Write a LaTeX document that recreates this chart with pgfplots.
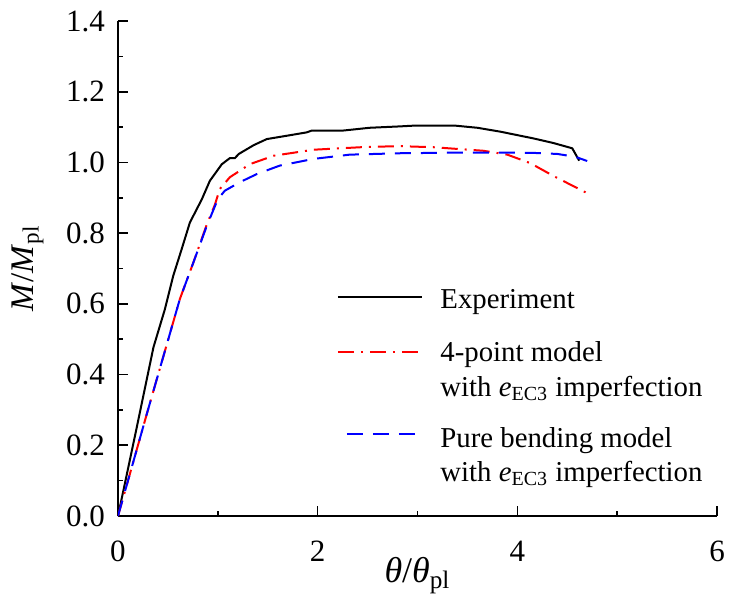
\documentclass[border=0pt]{standalone}
\usepackage{fontspec}
\setmainfont{Liberation Serif}
\usepackage{pgfplots}
\pgfplotsset{compat=1.18}

\begin{document}
\begin{tikzpicture}[x=0.5pt,y=0.5pt]
\begin{axis}[
  scale only axis, width=299.5pt, height=247.5pt,
  xmin=0, xmax=6, ymin=0, ymax=1.4,
  axis lines*=left, axis line style={line width=0.9pt},
  tick align=inside, major tick length=5pt, minor tick length=2.5pt,
  tick style={line width=0.8pt, black},
  xtick={0,2,4,6}, minor xtick={1,3,5},
  ytick={0,0.2,...,1.4}, minor ytick={0.1,0.3,...,1.3},
  /pgf/number format/assume math mode=true,
  tick label style={font=\fontsize{15.5}{17}\selectfont},
  yticklabel style={xshift=-3pt, /pgf/number format/.cd, fixed, fixed zerofill, precision=1},
  xticklabel style={yshift=-9pt},
  xlabel={\textit{θ}/\textit{θ}\textsubscript{pl}},
  ylabel={\textit{M}/\textit{M}\textsubscript{pl}},
  xlabel style={font=\fontsize{18}{20}\selectfont, yshift=9pt},
  ylabel style={font=\fontsize{16.5}{18}\selectfont, yshift=4.5pt},
]
\addplot[black, line width=1pt] coordinates {
(0,0) (0.18,0.24) (0.355,0.477) (0.47,0.585) (0.554,0.68) (0.638,0.755)
(0.72,0.83) (0.84,0.896) (0.92,0.948) (1.04,0.995) (1.12,1.012) (1.17,1.012)
(1.21,1.024) (1.36,1.049) (1.49,1.066) (1.66,1.074) (1.89,1.085) (1.94,1.09)
(2.25,1.09) (2.52,1.098) (2.83,1.102) (2.96,1.104) (3.38,1.104) (3.6,1.098)
(3.83,1.087) (4.16,1.068) (4.36,1.055) (4.55,1.04) (4.62,1.005)};
\addplot[red, line width=1pt, dash pattern=on 8pt off 3.5pt on 1pt off 3.5pt] coordinates {
(0,0) (0.3,0.3) (0.62,0.614) (0.755,0.717) (0.89,0.825) (0.97,0.88)
(1.02,0.925) (1.12,0.958) (1.32,0.995) (1.56,1.019) (1.96,1.036) (2.5,1.044)
(2.83,1.046) (3.16,1.043) (3.66,1.033) (3.9,1.022) (4.13,0.998) (4.36,0.962)
(4.7,0.913)};
\addplot[blue, line width=1pt, dash pattern=on 8pt off 5pt] coordinates {
(0,0) (0.3,0.3) (0.62,0.614) (0.755,0.717) (0.89,0.821) (1.0,0.896)
(1.07,0.92) (1.22,0.944) (1.39,0.967) (1.62,0.991) (1.96,1.01) (2.32,1.022)
(2.83,1.026) (3.49,1.028) (3.8,1.028) (4.16,1.027) (4.4,1.024) (4.58,1.016)
(4.7,1.004)};
% legend
\draw[black, line width=1pt] (axis description cs:0.367,0.442) -- (axis description cs:0.5075,0.442);
\draw[red, line width=1pt, dash pattern=on 8pt off 3.5pt on 1pt off 3.5pt] (axis description cs:0.367,0.331) -- (axis description cs:0.5075,0.331);
\draw[blue, line width=1pt, dash pattern=on 8pt off 5pt] (axis description cs:0.382,0.166) -- (axis description cs:0.499,0.166);
\begin{scope}[every node/.style={anchor=base west, inner sep=0pt, font=\fontsize{14.4}{17}\selectfont}]
\node at (axis description cs:0.5376,0.420) {Experiment};
\node at (axis description cs:0.5376,0.313) {4-point model};
\node at (axis description cs:0.5376,0.242) {with \textit{e}\textsubscript{EC3} imperfection};
\node at (axis description cs:0.5376,0.139) {Pure bending model};
\node at (axis description cs:0.5376,0.0707) {with \textit{e}\textsubscript{EC3} imperfection};
\end{scope}
\end{axis}
\path (current axis.south west) ++(-59pt,-37pt) rectangle ++(366pt,295pt);
\end{tikzpicture}
\end{document}
